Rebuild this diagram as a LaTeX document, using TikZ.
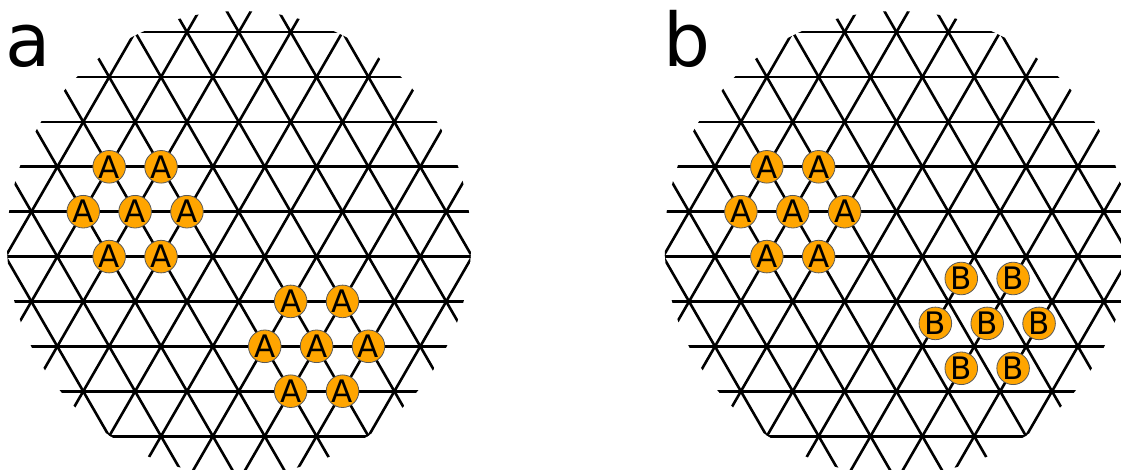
\documentclass[tikz,border=0pt]{standalone}
\usepackage{fontspec}
\setmainfont{DejaVu Sans}
\definecolor{atomorange}{HTML}{FFA500}
\begin{document}
\begin{tikzpicture}[x=1pt,y=-1pt,
  latline/.style={line width=2.6pt,black},
  atom/.style={circle,fill=atomorange,draw=black!65,line width=0.8pt,minimum size=32.6pt,inner sep=0pt,font=\fontsize{31}{31}\selectfont},
  panellabel/.style={anchor=base west,inner sep=0pt,font=\fontsize{74}{74}\selectfont}]
\useasboundingbox (0,0) rectangle (1121,470);
\pgfmathsetmacro\a{51.85}
\pgfmathsetmacro\h{44.9}
% lattice of panel a
\begin{scope}
  \clip (239,243) circle[radius=232pt];
  \foreach \j in {-6,...,6} {\draw[latline] ({238.8-320},{211.7+\j*\h}) -- ({238.8+320},{211.7+\j*\h});}
  \foreach \i in {-12,...,12} {
    \draw[latline] ({238.8+\i*\a-3*\a},{211.7+6*\h}) -- ({238.8+\i*\a+3*\a},{211.7-6*\h});
    \draw[latline] ({238.8+\i*\a-3*\a},{211.7-6*\h}) -- ({238.8+\i*\a+3*\a},{211.7+6*\h});
  }
\end{scope}
% lattice of panel b
\begin{scope}
  \clip (896.6,243) circle[radius=232pt];
  \foreach \j in {-6,...,6} {\draw[latline] ({896.45-320},{211.7+\j*\h}) -- ({896.45+320},{211.7+\j*\h});}
  \foreach \i in {-12,...,12} {
    \draw[latline] ({896.45+\i*\a-3*\a},{211.7+6*\h}) -- ({896.45+\i*\a+3*\a},{211.7-6*\h});
    \draw[latline] ({896.45+\i*\a-3*\a},{211.7-6*\h}) -- ({896.45+\i*\a+3*\a},{211.7+6*\h});
  }
\end{scope}
% atoms
\foreach \dx/\dy/\n in {-0.5/-1/1, 0.5/-1/2, -1/0/3, 0/0/4, 1/0/5, -0.5/1/6, 0.5/1/7} {
  \node[atom] (aA-\n) at ({135.1+\dx*\a},{211.7+\dy*\h}) {A};
  \node[atom] (aB-\n) at ({316.6+\dx*\a},{346.3+\dy*\h}) {A};
  \node[atom] (bA-\n) at ({792.75+\dx*\a},{211.7+\dy*\h}) {A};
  \node[atom] (bB-\n) at ({987.2+\dx*\a},{323.4+\dy*\h}) {B};
}
% panel labels
\node[panellabel] (la) at (5,67) {a};
\node[panellabel] (lb) at (663,67) {b};
\end{tikzpicture}
\end{document}
